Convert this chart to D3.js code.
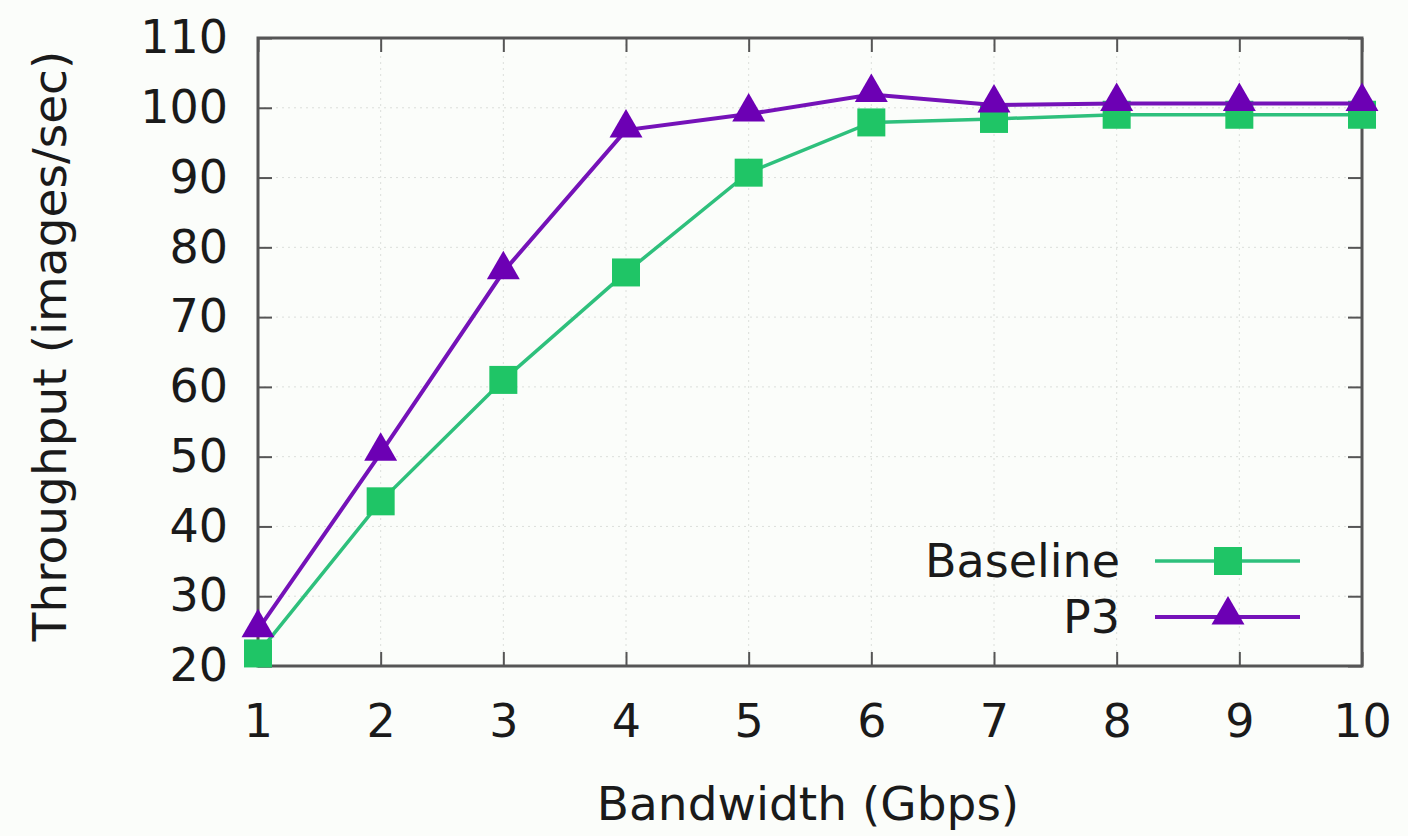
<!DOCTYPE html>
<html>
<head>
<meta charset="utf-8">
<script src="https://cdn.jsdelivr.net/npm/d3@7"></script>
<style>
  html, body { margin: 0; padding: 0; background: #fbfdfa; }
  svg { display: block; }
  text { font-family: "DejaVu Sans", sans-serif; fill: #1a1a1a; }
</style>
</head>
<body>
<svg id="chart" width="1408" height="836"></svg>
<script>
// Bandwidth sweep (Gbps)
const bandwidth = [1, 2, 3, 4, 5, 6, 7, 8, 9, 10];
// Throughput in images/sec
const baseline = [21.8, 43.6, 61.0, 76.4, 90.7, 97.9, 98.4, 99.0, 99.0, 99.0];
const p3 = [25.2, 50.5, 76.5, 96.8, 99.1, 101.9, 100.4, 100.6, 100.6, 100.6];
const yTicks = [20, 30, 40, 50, 60, 70, 80, 90, 100, 110];
const seriesNames = ["Baseline", "P3"];

const svg = d3.select("#chart");
const m = { left: 258, right: 1362, top: 38, bottom: 666 };
const tickFont = "46px";
const titleFont = "47px";

const x = d3.scaleLinear().domain([1, 10]).range([m.left, m.right]);
const y = d3.scaleLinear().domain([20, 110]).range([m.bottom, m.top]);

// faint dotted grid
const grid = svg.append("g").attr("stroke", "#c8ccc8").attr("stroke-width", 1)
  .attr("stroke-dasharray", "2,4").attr("opacity", 0.6);
grid.selectAll("line.v").data(bandwidth.slice(1, -1)).join("line")
  .attr("x1", d => x(d)).attr("x2", d => x(d)).attr("y1", m.top).attr("y2", m.bottom);
grid.selectAll("line.h").data(yTicks.slice(1, -1)).join("line")
  .attr("y1", d => y(d)).attr("y2", d => y(d)).attr("x1", m.left).attr("x2", m.right);

// axes with inward ticks, mirrored on top/right
const tickStyle = g => {
  g.select(".domain").remove();
  g.selectAll(".tick line").attr("stroke", "#555").attr("stroke-width", 2);
  g.selectAll(".tick text").style("font-size", tickFont).attr("fill", "#1a1a1a");
};
svg.append("g").attr("transform", `translate(0,${m.bottom})`)
  .call(d3.axisBottom(x).tickValues(bandwidth).tickFormat(d3.format("d")).tickSizeInner(-14).tickPadding(38))
  .call(tickStyle);
svg.append("g").attr("transform", `translate(${m.left},0)`)
  .call(d3.axisLeft(y).tickValues(yTicks).tickFormat(d3.format("d")).tickSizeInner(-14).tickPadding(30))
  .call(tickStyle);
svg.append("g").attr("transform", `translate(0,${m.top})`)
  .call(d3.axisTop(x).tickValues(bandwidth).tickSizeInner(-14).tickFormat(""))
  .call(tickStyle);
svg.append("g").attr("transform", `translate(${m.right},0)`)
  .call(d3.axisRight(y).tickValues(yTicks).tickSizeInner(-14).tickFormat(""))
  .call(tickStyle);

svg.append("rect").attr("x", m.left).attr("y", m.top)
  .attr("width", m.right - m.left).attr("height", m.bottom - m.top)
  .attr("fill", "none").attr("stroke", "#555").attr("stroke-width", 3);

const colors = { Baseline: { line: "#2ec07c", fill: "#1fc566" }, P3: { line: "#7512b8", fill: "#6c00b4" } };

const line = d3.line().x((d, i) => x(bandwidth[i])).y(d => y(d));
const sq = d3.symbol().type(d3.symbolSquare).size(28 * 28);
const tri = d3.symbol().type(d3.symbolTriangle).size(470);

// Baseline
svg.append("path").datum(baseline).attr("d", line).attr("fill", "none")
  .attr("stroke", colors.Baseline.line).attr("stroke-width", 3.5);
svg.selectAll("path.sq").data(baseline).join("path").attr("class", "sq")
  .attr("d", sq).attr("transform", (d, i) => `translate(${x(bandwidth[i])},${y(d)})`)
  .attr("fill", colors.Baseline.fill);

// P3
svg.append("path").datum(p3).attr("d", line).attr("fill", "none")
  .attr("stroke", colors.P3.line).attr("stroke-width", 4);
svg.selectAll("path.tri").data(p3).join("path").attr("class", "tri")
  .attr("d", tri).attr("transform", (d, i) => `translate(${x(bandwidth[i])},${y(d) - 2})`)
  .attr("fill", colors.P3.fill);

// legend
const leg = svg.append("g");
const legRows = [
  { name: seriesNames[0], c: colors.Baseline, sym: sq, w: 3.5 },
  { name: seriesNames[1], c: colors.P3, sym: tri, w: 4 }
];
legRows.forEach((r, i) => {
  const ly = 561 + i * 56;
  leg.append("text").attr("x", 1120).attr("y", ly).attr("dy", "0.35em")
    .attr("text-anchor", "end").style("font-size", tickFont).text(r.name);
  leg.append("line").attr("x1", 1155).attr("x2", 1300).attr("y1", ly).attr("y2", ly)
    .attr("stroke", r.c.line).attr("stroke-width", r.w);
  leg.append("path").attr("d", r.sym).attr("transform", `translate(1228,${ly - (i ? 2 : 0)})`)
    .attr("fill", r.c.fill);
});

// axis titles
svg.append("text").attr("x", 808).attr("y", 804).attr("dy", "0.35em")
  .attr("text-anchor", "middle").style("font-size", titleFont).text("Bandwidth (Gbps)");
svg.append("text").attr("transform", "translate(50,346) rotate(-90)").attr("dy", "0.35em")
  .attr("text-anchor", "middle").style("font-size", titleFont).text("Throughput (images/sec)");
</script>
</body>
</html>
